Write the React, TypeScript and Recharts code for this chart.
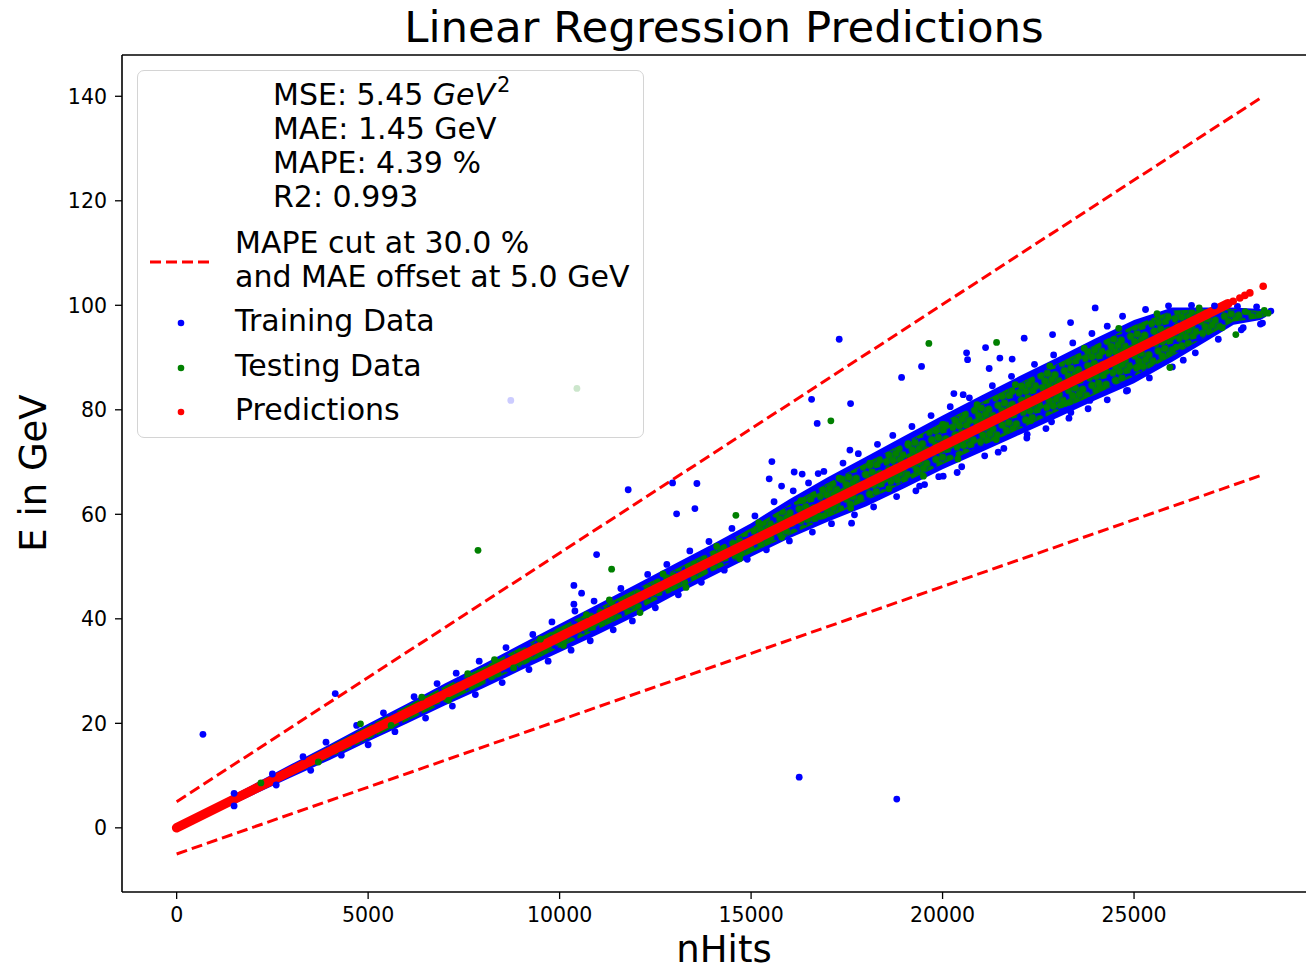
import React from "react";
import {
  ComposedChart,
  XAxis,
  YAxis,
  Scatter,
  Line,
  Area,
  ReferenceLine,
} from "recharts";

const FONT = '"DejaVu Sans", Verdana, sans-serif';
const BLUE = "#0000ff";
const GREEN = "#008000";
const RED = "#ff0000";

const xTicks = [0, 5000, 10000, 15000, 20000, 25000];
const yTicks = [0, 20, 40, 60, 80, 100, 120, 140];
const xDomain = [-1427, 29960];
const yDomain = [-12.28, 147.9];

// dense core of the point cloud (E range at each nHits)
const bandNHits = [
  0, 1000, 2000, 3000, 4000, 5000, 6000, 7000, 8000, 9000, 10000, 11000, 12000,
  13000, 14000, 15000, 16000, 17000, 18000, 19000, 20000, 21000, 22000, 23000,
  24000, 25000, 26000, 27000, 27600, 28300, 28450,
];
const trainLow = [
  -0.4, 2.85, 6.3, 9.7, 13.0, 16.5, 19.9, 23.4, 26.7, 30.2, 33.6, 37.0, 40.6,
  44.5, 48.2, 51.9, 55.4, 58.6, 61.5, 65.0, 68.6, 71.9, 75.2, 78.5, 81.9, 85.1,
  89.2, 93.6, 96.3, 97.2, 97.8,
];
const trainHigh = [
  0.4, 4.45, 8.3, 12.2, 16.0, 19.9, 23.7, 27.6, 31.3, 35.2, 39.0, 42.8, 46.6,
  50.5, 54.3, 58.3, 62.9, 67.1, 71.0, 75.0, 78.9, 82.7, 86.4, 90.0, 93.7, 97.2,
  99.6, 99.6, 99.6, 99.3, 98.6,
];
const testLow = [
  -0.3, 3.0, 6.5, 10.0, 13.4, 16.9, 20.4, 23.9, 27.4, 30.9, 34.5, 38.0, 41.6,
  45.4, 49.1, 52.6, 56.0, 59.4, 62.6, 66.1, 69.6, 73.0, 76.3, 79.7, 83.0, 86.4,
  90.3, 94.5, 96.9, 97.5, 97.9,
];
const testHigh = [
  0.3, 4.3, 8.1, 11.9, 15.7, 19.5, 23.3, 27.1, 30.8, 34.6, 38.4, 42.0, 45.7,
  49.4, 53.1, 57.4, 61.8, 66.0, 69.8, 73.7, 77.6, 81.4, 85.1, 88.8, 92.5, 96.2,
  99.0, 99.3, 99.3, 98.9, 98.4,
];

const trainingPoints: [number, number][] = [
  // upper edge
  [1500, 6.6], [2500, 10.3], [3300, 13.6], [3900, 16.4], [4700, 19.6], [5400, 22.0],
  [6200, 25.1], [6800, 27.6], [7300, 29.6], [7900, 31.9], [8600, 34.5], [9300, 37.0],
  [9800, 39.4], [10400, 41.5], [10900, 43.4], [11600, 45.8], [12300, 48.5], [12800, 50.4],
  [13400, 53.0], [13900, 54.8], [14500, 57.3], [15100, 59.7], [15600, 62.4], [16100, 64.5],
  [16500, 66.0], [16900, 68.2], [17400, 69.8], [17800, 71.6], [18300, 73.4], [18700, 75.1],
  [19200, 76.8], [19700, 78.9], [20200, 80.6], [20700, 82.3], [21300, 84.6], [21800, 86.4],
  [22400, 88.7], [22900, 90.5], [23400, 92.8], [23900, 94.6], [24300, 96.0], [24700, 97.9],
  [25300, 99.2], [25900, 99.9], [26500, 100.0], [27100, 99.9], [27700, 99.8], [28200, 99.7],
  // lower edge
  [1500, 4.2], [2600, 8.2], [3500, 11.0], [4300, 13.9], [5000, 15.9], [5700, 18.4],
  [6500, 21.0], [7200, 23.3], [7800, 25.5], [8500, 27.8], [9200, 30.3], [9700, 31.9],
  [10300, 34.0], [10800, 35.8], [11400, 37.9], [11900, 39.6], [12500, 42.1], [13100, 44.6],
  [13700, 47.0], [14300, 49.3], [14900, 51.4], [15400, 53.2], [16000, 54.9], [16600, 56.6],
  [17100, 58.2], [17700, 59.9], [18200, 61.4], [18800, 63.4], [19400, 65.4], [19900, 67.2],
  [20500, 69.1], [21100, 71.2], [21600, 72.6], [22200, 74.6], [22700, 76.4], [23300, 78.4],
  [23800, 80.2], [24300, 81.9], [24800, 83.6], [25400, 86.1], [26000, 88.2], [26600, 90.9],
  [27200, 93.5], [27800, 95.3], [28300, 96.4],
  // outliers
  [687, 17.9], [4141, 25.7], [16256, 9.7], [18804, 5.5], [17301, 93.5], [16580, 82.0],
  [17598, 81.2], [16726, 77.4], [11791, 64.7], [12950, 66.0], [13585, 65.9], [13055, 60.1],
  [13533, 61.1], [15543, 70.1], [15473, 66.8], [15796, 65.4], [16125, 68.1], [16334, 67.7],
  [16752, 67.8], [19451, 88.3], [18930, 86.2], [21123, 91.9], [22131, 93.7], [22872, 94.4],
  [23342, 96.7], [23985, 99.5], [20627, 90.9], [20653, 89.6], [21496, 89.9], [21817, 89.7],
  [21217, 87.9], [20295, 83.1], [20538, 82.9], [24830, 83.7], [28354, 96.6], [28572, 98.9],
  [26285, 89.5], [27850, 95.7], [22209, 75.3], [22846, 77.7], [23350, 79.5], [20381, 68.0],
  [20016, 67.3], [19530, 65.7], [17624, 58.3], [19303, 64.5], [21452, 71.9], [23846, 81.8],
  [17580, 72.3], [10966, 52.3], [10373, 46.4], [10574, 44.9], [10373, 42.8], [8726, 81.8],
];

const testingPoints: [number, number][] = [
  [2200, 8.6], [3700, 12.6], [4800, 19.9], [5600, 19.6], [6400, 25.0], [7100, 24.4],
  [7600, 29.5], [8300, 32.2], [8800, 30.6], [9500, 36.1], [10100, 34.9], [10700, 40.8],
  [11300, 43.6], [12100, 41.2], [12700, 48.6], [13300, 46.0], [14100, 53.9], [14700, 51.5],
  [15200, 58.4], [15800, 55.6], [16300, 62.6], [16800, 59.6], [17300, 66.9], [17600, 61.2],
  [18100, 69.8], [18600, 64.9], [19100, 73.5], [19500, 67.3], [20000, 77.2], [20400, 70.6],
  [20900, 81.0], [21400, 74.3], [21900, 84.8], [22300, 77.9], [22800, 88.4], [23200, 81.2],
  [23700, 91.8], [24100, 84.4], [24600, 95.6], [25100, 88.2], [25600, 98.4], [26100, 92.0],
  [26700, 99.5], [27300, 95.7], [27900, 98.8], [28400, 99.0], [28500, 98.5],
  [7869, 53.1], [11358, 49.5], [17083, 77.9], [19642, 92.7], [21410, 92.9], [25935, 88.1],
  [27658, 94.4], [14603, 59.8], [10452, 84.1],
];

const predNHits = [0, 2000, 4000, 6000, 8000, 10000, 12000, 14000, 16000, 18000, 20000, 22000, 24000, 26000, 27450];
const predEnergy = [0, 7.31, 14.61, 21.92, 29.22, 36.53, 43.84, 51.14, 58.45, 65.75, 73.06, 80.37, 87.67, 94.98, 100.28];
const predTail: [number, number][] = [
  [27588, 100.78], [27762, 101.41], [27893, 101.89], [28024, 102.37], [28372, 103.64],
];

const upperCut: [number, number][] = [[0, 5.0], [28372, 140.0]];
const lowerCut: [number, number][] = [[0, -5.0], [28372, 67.6]];

const toRows = (pts: [number, number][]) => pts.map(([x, y]) => ({ x, y }));
const bandRows = bandNHits.map((x, i) => ({
  x,
  train: [trainLow[i], trainHigh[i]],
  test: [testLow[i], testHigh[i]],
}));
const predRows = predNHits.map((x, i) => ({ x, y: predEnergy[i] }));

const dot = (color: string, r = 3.4) => (props: any) =>
  props.cx == null ? <g /> : <circle cx={props.cx} cy={props.cy} r={r} fill={color} />;

const abs = (left: number, top: number, extra: React.CSSProperties = {}): React.CSSProperties => ({
  position: "absolute",
  left,
  top,
  whiteSpace: "nowrap",
  ...extra,
});

const legendText: React.CSSProperties = { fontSize: 30, lineHeight: "34px", color: "#000" };

// speckle texture for the mixed blue / green core
const speckle: [number, number][] = [
  [4, 4], [11, 3], [18, 6], [7, 10], [14, 10], [21, 13], [3, 16], [10, 16], [17, 17],
];

export default function App() {
  return (
    <div
      style={{
        position: "absolute",
        left: 0,
        top: 0,
        width: 1306,
        height: 971,
        overflow: "hidden",
        background: "#fff",
        fontFamily: FONT,
      }}
    >
      <ComposedChart width={1340} height={971} margin={{ top: 55, right: 16, bottom: 78, left: 121 }}>
        <defs>
          <pattern id="testSpeckle" patternUnits="userSpaceOnUse" width="24" height="20" patternTransform="rotate(-12)">
            {speckle.map(([cx, cy], i) => (
              <circle key={i} cx={cx} cy={cy} r="3.7" fill={GREEN} />
            ))}
          </pattern>
        </defs>
        <XAxis
          type="number"
          dataKey="x"
          domain={xDomain}
          allowDataOverflow
          ticks={xTicks}
          interval={0}
          height={1}
          tickSize={7}
          tickMargin={8}
          axisLine={{ stroke: "#000", strokeWidth: 1.6 }}
          tickLine={{ stroke: "#000", strokeWidth: 1.3 }}
          tick={{ fill: "#000", fontSize: 20.5, fontFamily: FONT }}
        />
        <YAxis
          type="number"
          dataKey="y"
          domain={yDomain}
          allowDataOverflow
          ticks={yTicks}
          interval={0}
          width={1}
          tickSize={7}
          tickMargin={8}
          axisLine={{ stroke: "#000", strokeWidth: 1.6 }}
          tickLine={{ stroke: "#000", strokeWidth: 1.3 }}
          tick={{ fill: "#000", fontSize: 20.5, fontFamily: FONT }}
        />
        <ReferenceLine y={yDomain[1]} stroke="#000" strokeWidth={1.6} ifOverflow="visible" />
        <ReferenceLine x={xDomain[1]} stroke="#000" strokeWidth={1.6} ifOverflow="visible" />
        <Area
          data={bandRows}
          dataKey="train"
          type="linear"
          stroke="none"
          fill={BLUE}
          fillOpacity={1}
          isAnimationActive={false}
        />
        <Area
          data={bandRows}
          dataKey="test"
          type="linear"
          stroke="none"
          fill="url(#testSpeckle)"
          fillOpacity={1}
          isAnimationActive={false}
        />
        <Scatter data={toRows(trainingPoints)} fill={BLUE} shape={dot(BLUE)} isAnimationActive={false} />
        <Scatter data={toRows(testingPoints)} fill={GREEN} shape={dot(GREEN)} isAnimationActive={false} />
        <Line
          data={predRows}
          dataKey="y"
          type="linear"
          stroke={RED}
          strokeWidth={9.5}
          strokeLinecap="round"
          dot={false}
          activeDot={false}
          isAnimationActive={false}
        />
        <Scatter data={toRows(predTail)} fill={RED} shape={dot(RED, 3.8)} isAnimationActive={false} />
        <Line
          data={toRows(upperCut)}
          dataKey="y"
          type="linear"
          stroke={RED}
          strokeWidth={3}
          strokeDasharray="11 5"
          dot={false}
          activeDot={false}
          isAnimationActive={false}
        />
        <Line
          data={toRows(lowerCut)}
          dataKey="y"
          type="linear"
          stroke={RED}
          strokeWidth={3}
          strokeDasharray="11 5"
          dot={false}
          activeDot={false}
          isAnimationActive={false}
        />
      </ComposedChart>

      {/* title and axis labels */}
      <div style={abs(724, 2, { transform: "translateX(-50%)", fontSize: 43.5, lineHeight: "50px" })}>
        Linear Regression Predictions
      </div>
      <div style={abs(724, 932, { transform: "translateX(-50%)", fontSize: 37, lineHeight: "36px" })}>
        nHits
      </div>
      <div
        style={abs(33, 473, {
          transform: "translate(-50%, -50%) rotate(-90deg)",
          fontSize: 37,
          lineHeight: "37px",
        })}
      >
        E in GeV
      </div>

      {/* legend */}
      <div
        style={{
          position: "absolute",
          left: 137,
          top: 70,
          width: 507,
          height: 368,
          boxSizing: "border-box",
          border: "1.5px solid #d4d4d4",
          borderRadius: 7,
          background: "rgba(255,255,255,0.8)",
        }}
      />
      <div style={abs(273, 78, legendText)}>
        MSE: 5.45 <span style={{ fontStyle: "italic" }}>GeV</span>
        <span style={{ fontSize: "0.7em", position: "relative", top: "-0.62em", marginLeft: 2 }}>2</span>
      </div>
      <div style={abs(273, 112, legendText)}>MAE: 1.45 GeV</div>
      <div style={abs(273, 146, legendText)}>MAPE: 4.39 %</div>
      <div style={abs(273, 180, legendText)}>R2: 0.993</div>
      <div style={abs(235, 226, legendText)}>MAPE cut at 30.0 %</div>
      <div style={abs(235, 260, legendText)}>and MAE offset at 5.0 GeV</div>
      <div style={abs(235, 304, legendText)}>Training Data</div>
      <div style={abs(235, 349, legendText)}>Testing Data</div>
      <div style={abs(235, 393, legendText)}>Predictions</div>
      <svg style={{ position: "absolute", left: 0, top: 0, pointerEvents: "none" }} width={700} height={460}>
        <line x1={150} y1={262} x2={210} y2={262} stroke={RED} strokeWidth={3} strokeDasharray="11 5" />
        <circle cx={181} cy={323} r={3.3} fill={BLUE} />
        <circle cx={181} cy={368} r={3.3} fill={GREEN} />
        <circle cx={181} cy={412} r={3.3} fill={RED} />
      </svg>
    </div>
  );
}
